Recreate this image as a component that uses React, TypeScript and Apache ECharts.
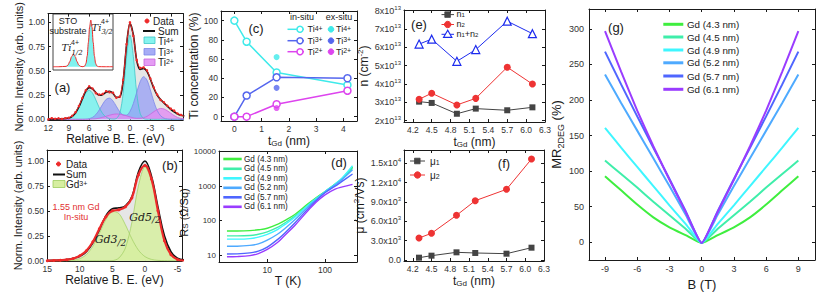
import React, { useEffect, useRef } from 'react';
import * as echarts from 'echarts';

// ===== (a) Ti 2p spectrum =====
const beA = [12, 11.5, 11, 10.5, 10, 9.5, 9, 8.5, 8, 7.5, 7, 6.5, 6, 5.5, 5, 4.5, 4, 3.5, 3, 2.5, 2, 1.5, 1, 0.5, 0, -0.5, -1, -1.5, -2, -2.5, -3, -3.5, -4, -4.5, -5, -5.5, -6, -6.5, -7, -7.5, -8];
const dataA = [0, 0.012, 0.006, 0.01, 0.004, 0.012, 0.016, 0.036, 0.074, 0.138, 0.22, 0.3, 0.34, 0.318, 0.27, 0.255, 0.262, 0.29, 0.278, 0.275, 0.222, 0.235, 0.405, 0.775, 1.0, 0.86, 0.61, 0.53, 0.535, 0.505, 0.42, 0.33, 0.255, 0.2, 0.175, 0.14, 0.11, 0.09, 0.06, 0.045, 0.03];
const sumA = [0.004, 0.004, 0.004, 0.005, 0.006, 0.008, 0.014, 0.031, 0.068, 0.13, 0.213, 0.29, 0.327, 0.313, 0.274, 0.248, 0.256, 0.28, 0.288, 0.268, 0.227, 0.227, 0.398, 0.766, 0.99, 0.87, 0.606, 0.515, 0.525, 0.495, 0.416, 0.323, 0.251, 0.204, 0.169, 0.136, 0.103, 0.077, 0.055, 0.041, 0.034];
const ti4A = [0, 0, 0, 0, 0.001, 0.002, 0.007, 0.023, 0.058, 0.118, 0.198, 0.27, 0.3, 0.27, 0.198, 0.118, 0.058, 0.023, 0.007, 0.002, 0.008, 0.061, 0.267, 0.647, 0.87, 0.647, 0.267, 0.061, 0.008, 0, 0, 0, 0, 0, 0, 0, 0, 0, 0, 0, 0];
const ti3A = [0, 0, 0, 0, 0, 0, 0, 0, 0, 0, 0, 0.002, 0.007, 0.02, 0.05, 0.098, 0.157, 0.206, 0.219, 0.19, 0.134, 0.078, 0.045, 0.043, 0.081, 0.163, 0.279, 0.388, 0.44, 0.405, 0.303, 0.185, 0.091, 0.037, 0.012, 0.003, 0, 0, 0, 0, 0];
const ti2A = [0, 0, 0, 0, 0, 0, 0, 0, 0, 0, 0, 0, 0, 0.003, 0.006, 0.012, 0.021, 0.031, 0.042, 0.051, 0.055, 0.053, 0.046, 0.036, 0.025, 0.015, 0.01, 0.011, 0.017, 0.03, 0.053, 0.078, 0.1, 0.112, 0.107, 0.088, 0.063, 0.039, 0.02, 0.009, 0.004];

// inset: STO substrate
const insetX = [0, 0.1, 0.22, 0.25, 0.28, 0.31, 0.34, 0.37, 0.4, 0.43, 0.46, 0.5, 0.53, 0.55, 0.57, 0.59, 0.61, 0.63, 0.65, 0.67, 0.69, 0.71, 0.73, 0.76, 0.85, 1];
const insetY = [0, 0, 0.008, 0.036, 0.111, 0.216, 0.27, 0.216, 0.111, 0.036, 0.008, 0, 0.017, 0.073, 0.23, 0.52, 0.85, 1.0, 0.85, 0.52, 0.23, 0.073, 0.017, 0.002, 0, 0];

// ===== (b) Gd 4d spectrum =====
const beB = [15, 14, 13, 12, 11, 10, 9, 8, 7, 6, 5, 4, 3, 2, 1, 0, -1, -2, -3, -4, -5, -6];
const dataB = [0, 0.002, 0.005, 0.01, 0.022, 0.05, 0.1, 0.19, 0.32, 0.44, 0.5, 0.51, 0.54, 0.63, 0.86, 0.955, 0.82, 0.5, 0.2, 0.06, 0.012, 0.002];
const sumB = [0.002, 0.004, 0.006, 0.012, 0.025, 0.045, 0.09, 0.18, 0.31, 0.45, 0.52, 0.53, 0.55, 0.64, 0.89, 1.0, 0.85, 0.54, 0.25, 0.09, 0.025, 0.008];
const gd32 = [0, 0, 0, 0.001, 0.006, 0.021, 0.061, 0.145, 0.274, 0.413, 0.495, 0.473, 0.36, 0.219, 0.106, 0.041, 0.013, 0.003, 0.001, 0, 0, 0];
const gd52 = [0, 0, 0, 0, 0, 0, 0, 0, 0, 0, 0.001, 0.027, 0.127, 0.386, 0.75, 0.94, 0.806, 0.507, 0.234, 0.08, 0.02, 0.004];

// ===== (c) Ti concentration =====
const tGdC = [0, 0.45, 1.55, 4.15];
const inSituTi4 = [100, 78, 46, 33];
const inSituTi3 = [0, 22, 41, 40];
const inSituTi2 = [0, 0, 13, 27];
const tGdEx = [1.55];
const exSituTi4 = [62];
const exSituTi3 = [30];
const exSituTi2 = [9];

// ===== (d) Rs vs T =====
const tempK = [2, 3, 5, 7, 10, 15, 20, 30, 50, 70, 100, 150, 200, 300];
const rs43 = [50, 50, 51, 54, 60, 78, 100, 150, 300, 460, 700, 1150, 1700, 3600];
const rs45 = [36, 36, 37, 40, 47, 63, 85, 135, 280, 440, 690, 1130, 1650, 3300];
const rs49 = [29, 29, 30, 33, 40, 55, 76, 125, 270, 430, 690, 1150, 1750, 3900];
const rs52 = [18, 18, 19, 21, 27, 40, 58, 105, 245, 405, 670, 1100, 1600, 3000];
const rs57 = [10.7, 10.8, 11.5, 13, 17, 28, 43, 85, 215, 375, 640, 1000, 1400, 2250];
const rs61 = [8.9, 9, 9.6, 11, 14.5, 23, 37, 72, 190, 340, 560, 820, 950, 1130];

// ===== (e) carrier densities =====
const tGd = [4.3, 4.5, 4.9, 5.2, 5.7, 6.1];
const n1 = [3.04e13, 2.97e13, 2.38e13, 2.66e13, 2.57e13, 2.73e13];
const n2 = [3.17e13, 3.5e13, 2.86e13, 3.22e13, 4.92e13, 4.0e13];
const nSum = [6.18e13, 6.45e13, 5.24e13, 5.88e13, 7.43e13, 6.75e13];

// ===== (f) mobilities =====
const mu1 = [360, 670, 1190, 1090, 980, 1910];
const mu2 = [3410, 4140, 6930, 9200, 10960, 15660];

// ===== (g) MR =====
const bField = [-9, -7.5, -6, -4.5, -3, -1.5, 0, 1.5, 3, 4.5, 6, 7.5, 9];
const mr43 = [93, 73, 53, 35, 21, 10, -1, 10, 21, 35, 53, 73, 93];
const mr45 = [115, 96, 77, 57, 38, 19, -1, 19, 38, 57, 77, 96, 115];
const mr49 = [161, 133, 106, 79, 52, 26, -1, 26, 52, 79, 106, 133, 161];
const mr52 = [236, 196, 157, 118, 79, 39, -1, 39, 79, 118, 157, 196, 236];
const mr57 = [268, 222, 177, 133, 89, 44, -1, 44, 89, 133, 177, 222, 268];
const mr61 = [297, 240, 185, 135, 88, 43, -1, 43, 88, 135, 185, 240, 297];

const gdNames = ['Gd (4.3 nm)', 'Gd (4.5 nm)', 'Gd (4.9 nm)', 'Gd (5.2 nm)', 'Gd (5.7 nm)', 'Gd (6.1 nm)'];
const gdColors = ['#3fee3f', '#3feeaa', '#3ff6ff', '#4eaaff', '#4f66ff', '#9a3cff'];

const FONT = "'Liberation Sans', Arial, Helvetica, sans-serif";
const SERIF = "'DejaVu Serif', 'Liberation Serif', serif";
const RED = '#ee2a2a';
const AXC = '#1a1a1a';

const pair = (xs: number[], ys: number[]) => xs.map((x, i) => [x, ys[i]]);
const isMult = (v: number, s: number) => Math.abs(v / s - Math.round(v / s)) < 1e-6;
const isPow10 = (v: number) => {
  const l = Math.log10(v);
  return Math.abs(l - Math.round(l)) < 1e-6;
};

function buildOption() {
  const grids = [
    { left: 48, top: 12, width: 135, height: 108 }, // a
    { left: 53, top: 14, width: 60, height: 56, show: true, borderColor: '#444', borderWidth: 1, backgroundColor: '#fff' }, // inset
    { left: 47, top: 150, width: 135, height: 111 }, // b
    { left: 221, top: 11, width: 136, height: 110 }, // c
    { left: 219, top: 151, width: 138, height: 111 }, // d
    { left: 404, top: 10, width: 141, height: 112 }, // e
    { left: 404, top: 150, width: 140, height: 111 }, // f
    { left: 589, top: 9, width: 226, height: 251 }, // g
  ];
  const xAxis: any[] = [];
  const yAxis: any[] = [];
  const series: any[] = [];
  const g: any[] = [];

  const common = (gi: number) => ({
    gridIndex: gi,
    axisLine: { show: true, onZero: false, lineStyle: { color: AXC, width: 1 } },
    axisTick: { show: true, inside: true, length: 3, lineStyle: { color: AXC, width: 1 } },
    splitLine: { show: false },
  });
  const mkAxis = (gi: number, ax: any, horiz: boolean) => {
    const main = {
      ...common(gi),
      ...ax,
      position: horiz ? 'bottom' : 'left',
      nameLocation: 'middle',
      axisLabel: { color: '#333', fontSize: 8.5, fontFamily: FONT, margin: 3, ...(ax.axisLabel || {}) },
      nameTextStyle: { color: AXC, fontSize: 12, fontFamily: FONT, ...(ax.nameTextStyle || {}) },
    };
    const mirror: any = {
      ...common(gi),
      type: ax.type,
      min: ax.min,
      max: ax.max,
      inverse: ax.inverse,
      position: horiz ? 'top' : 'right',
      axisLabel: { show: false },
    };
    if (ax.minInterval != null) { mirror.minInterval = ax.minInterval; mirror.maxInterval = ax.maxInterval; }
    if (ax.logBase != null) mirror.logBase = ax.logBase;
    return [main, mirror];
  };
  const addAxes = (gi: number, x: any, y: any) => {
    const xi = xAxis.length;
    xAxis.push(...mkAxis(gi, x, true));
    const yi = yAxis.length;
    yAxis.push(...mkAxis(gi, y, false));
    return { xAxisIndex: xi, yAxisIndex: yi };
  };
  const subRich = {
    sub: { fontSize: 8, verticalAlign: 'bottom', lineHeight: 8, color: AXC, fontFamily: FONT },
    sup: { fontSize: 8, verticalAlign: 'top', lineHeight: 8, color: AXC, fontFamily: FONT },
  };
  const fmtStep = (s: number, d: number) => (v: number) => (isMult(v, s) ? v.toFixed(d) : '');

  // ---------- (a)
  const A = addAxes(0,
    { type: 'value', min: -7.8, max: 12.05, inverse: true, minInterval: 3, maxInterval: 3,
      axisLabel: { formatter: fmtStep(3, 0) }, name: 'Relative B. E. (eV)', nameGap: 11 },
    { type: 'value', min: -0.007, max: 1.09, minInterval: 0.25, maxInterval: 0.25,
      axisLabel: { formatter: fmtStep(0.25, 2) }, name: 'Norm. Intensity (arb. units)', nameGap: 19, nameTextStyle: { fontSize: 11 } });
  const area = (name: string, ys: number[], xs: number[], ax: any, fill: string, stroke: string, lw = 0.8) => ({
    type: 'line', name, ...ax, data: pair(xs, ys), symbol: 'none', smooth: 0.3, z: 2,
    lineStyle: { color: stroke, width: lw }, areaStyle: { color: fill, opacity: 1 },
  });
  series.push(area('bgA', sumA, beA, A, '#e6e6e6', '#e6e6e6', 0));
  series.push(area('Ti4+ fit', ti4A, beA, A, 'rgba(120,242,238,0.85)', '#3cc8c8'));
  series.push(area('Ti3+ fit', ti3A, beA, A, 'rgba(150,158,246,0.75)', '#7c86ea'));
  series.push(area('Ti2+ fit', ti2A, beA, A, 'rgba(226,140,242,0.8)', '#c866dc'));
  series.push({ type: 'line', name: 'Sum A', ...A, data: pair(beA, sumA), symbol: 'none', smooth: 0.3, lineStyle: { color: '#111', width: 1.6 } });
  series.push({ type: 'line', name: 'Data A', ...A, data: pair(beA, dataA), symbol: 'circle', symbolSize: 2.5, smooth: 0.2,
    itemStyle: { color: RED }, lineStyle: { color: RED, width: 1 } });

  // inset
  const ixi = xAxis.length;
  xAxis.push({ type: 'value', gridIndex: 1, min: 0, max: 1, show: false });
  const iyi = yAxis.length;
  yAxis.push({ type: 'value', gridIndex: 1, min: -0.07, max: 1.13, show: false });
  series.push({ type: 'line', name: 'STO', xAxisIndex: ixi, yAxisIndex: iyi, data: pair(insetX, insetY), symbol: 'none', smooth: 0.3,
    smoothMonotone: 'x', lineStyle: { color: RED, width: 1 }, areaStyle: { color: '#7ff2ee', opacity: 1 } });

  // ---------- (b)
  const B = addAxes(2,
    { type: 'value', min: -5.7, max: 15.05, inverse: true, minInterval: 5, maxInterval: 5,
      axisLabel: { formatter: fmtStep(5, 0) }, name: 'Relative B. E. (eV)', nameGap: 11 },
    { type: 'value', min: -0.003, max: 1.11, minInterval: 0.25, maxInterval: 0.25,
      axisLabel: { formatter: fmtStep(0.25, 2) }, name: 'Norm. Intensity (arb. units)', nameGap: 19, nameTextStyle: { fontSize: 11 } });
  series.push(area('bgB', sumB, beB, B, '#e6e6e6', '#e6e6e6', 0));
  series.push(area('Gd3/2 fit', gd32, beB, B, 'rgba(214,238,160,0.85)', '#a6d26a'));
  series.push(area('Gd5/2 fit', gd52, beB, B, 'rgba(214,238,160,0.85)', '#a6d26a'));
  series.push({ type: 'line', name: 'Sum B', ...B, data: pair(beB, sumB), symbol: 'none', smooth: 0.4, lineStyle: { color: '#111', width: 1.6 } });
  series.push({ type: 'line', name: 'Data B', ...B, data: pair(beB, dataB), symbol: 'circle', symbolSize: 3, smooth: 0.4,
    itemStyle: { color: RED }, lineStyle: { color: RED, width: 2.2 } });

  // ---------- (c)
  const C = addAxes(3,
    { type: 'value', min: -0.49, max: 4.5, minInterval: 1, maxInterval: 1, axisLabel: { formatter: fmtStep(1, 0) },
      name: 't{sub|Gd} (nm)', nameGap: 12, nameTextStyle: { rich: subRich, lineHeight: 14 } },
    { type: 'value', min: -4.5, max: 110, minInterval: 20, maxInterval: 20, axisLabel: { formatter: fmtStep(20, 0) },
      name: 'Ti concentration (%)', nameGap: 17 });
  const cCols = ['#3feaea', '#5566ee', '#dd44ee'];
  const inS = [inSituTi4, inSituTi3, inSituTi2];
  const exS = [exSituTi4, exSituTi3, exSituTi2];
  inS.forEach((ys, i) => series.push({ type: 'line', name: 'in ' + i, ...C, data: pair(tGdC, ys), symbol: 'circle', symbolSize: 7,
    itemStyle: { color: '#fff', borderColor: cCols[i], borderWidth: 1.5 }, lineStyle: { color: cCols[i], width: 1.5 }, z: 3 }));
  exS.forEach((ys, i) => series.push({ type: 'scatter', name: 'ex ' + i, ...C, data: pair(tGdEx, ys), symbolSize: 6,
    itemStyle: { color: cCols[i] }, z: 4 }));

  // ---------- (d)
  const D = addAxes(4,
    { type: 'log', logBase: 10, min: 1.456, max: 358.6, axisLabel: { formatter: (v: number) => (isPow10(v) ? String(Math.round(v)) : '') },
      name: 'T (K)', nameGap: 10 },
    { type: 'log', logBase: 10, min: 6.27, max: 10480,
      axisLabel: { fontSize: 8, formatter: (v: number) => (isPow10(v) ? String(Math.round(v)) : '') },
      name: 'R{sub|S} (Ω/Sq)', nameGap: 13, nameTextStyle: { fontSize: 11, rich: subRich, lineHeight: 12, padding: [0, 12, 0, 0] } });
  [rs43, rs45, rs49, rs52, rs57, rs61].forEach((ys, i) => series.push({ type: 'line', name: gdNames[i], ...D, data: pair(tempK, ys),
    symbol: 'none', smooth: 0.35, lineStyle: { color: gdColors[i], width: 1.4 }, itemStyle: { color: gdColors[i] } }));

  // ---------- (e)
  const supLbl = { sup: { fontSize: 6, verticalAlign: 'top', lineHeight: 6, color: '#333', fontFamily: FONT } };
  const E = addAxes(5,
    { type: 'value', min: 4.06, max: 6.3, minInterval: 0.3, maxInterval: 0.3, axisLabel: { formatter: fmtStep(0.3, 1) },
      name: 't{sub|Gd} (nm)', nameGap: 10, nameTextStyle: { rich: subRich, lineHeight: 14 } },
    { type: 'value', min: 1.93e13, max: 8.04e13, minInterval: 1e13, maxInterval: 1e13,
      axisLabel: { formatter: (v: number) => (isMult(v, 1e13) ? `${Math.round(v / 1e13)}x10{sup|13}` : ''), lineHeight: 12, fontSize: 9, rich: supLbl },
      name: 'n (cm{sup|-2})', nameGap: 29, nameTextStyle: { rich: subRich, lineHeight: 14 } });
  series.push({ type: 'line', name: 'n1', ...E, data: pair(tGd, n1), symbol: 'rect', symbolSize: 6,
    itemStyle: { color: '#444' }, lineStyle: { color: '#444', width: 1 } });
  series.push({ type: 'line', name: 'n2', ...E, data: pair(tGd, n2), symbol: 'circle', symbolSize: 7,
    itemStyle: { color: '#ee3333' }, lineStyle: { color: '#ee3333', width: 1 } });
  series.push({ type: 'line', name: 'n1+n2', ...E, data: pair(tGd, nSum), symbol: 'triangle', symbolSize: 8,
    itemStyle: { color: '#fff', borderColor: '#1c2bee', borderWidth: 1.2 }, lineStyle: { color: '#1c2bee', width: 1 } });

  // ---------- (f)
  const F = addAxes(6,
    { type: 'value', min: 4.06, max: 6.3, minInterval: 0.3, maxInterval: 0.3, axisLabel: { formatter: fmtStep(0.3, 1) },
      name: 't{sub|Gd} (nm)', nameGap: 10, nameTextStyle: { rich: subRich, lineHeight: 14 } },
    { type: 'value', min: -155, max: 17060, minInterval: 3000, maxInterval: 3000,
      axisLabel: {
        formatter: (v: number) => {
          if (!isMult(v, 3000)) return '';
          if (Math.abs(v) < 1) return '0.0';
          if (v < 9999) return `${(v / 1000).toFixed(1)}x10{sup|3}`;
          return `${(v / 10000).toFixed(1)}x10{sup|4}`;
        },
        lineHeight: 12, fontSize: 9, rich: supLbl,
      },
      name: 'μ (cm{sup|2}/Vs)', nameGap: 29, nameTextStyle: { rich: subRich, lineHeight: 14 } });
  series.push({ type: 'line', name: 'mu1', ...F, data: pair(tGd, mu1), symbol: 'rect', symbolSize: 6,
    itemStyle: { color: '#444' }, lineStyle: { color: '#444', width: 1 } });
  series.push({ type: 'line', name: 'mu2', ...F, data: pair(tGd, mu2), symbol: 'circle', symbolSize: 7,
    itemStyle: { color: '#ee3333' }, lineStyle: { color: '#ee3333', width: 1 } });

  // ---------- (g)
  const Gx = addAxes(7,
    { type: 'value', min: -10.49, max: 10.55, minInterval: 3, maxInterval: 3, axisLabel: { formatter: fmtStep(3, 0), fontSize: 9, margin: 4 },
      name: 'B (T)', nameGap: 16, nameTextStyle: { fontSize: 13 } },
    { type: 'value', min: -24.9, max: 328, minInterval: 50, maxInterval: 50, axisLabel: { formatter: fmtStep(50, 0), fontSize: 9, margin: 5 },
      name: 'MR{sub|2DEG} (%)', nameGap: 22, nameTextStyle: { fontSize: 13, rich: { ...subRich, sub: { ...subRich.sub, fontSize: 9 } }, lineHeight: 17 } });
  [mr43, mr45, mr49, mr52, mr57, mr61].forEach((ys, i) => series.push({ type: 'line', name: gdNames[i], ...Gx, data: pair(bField, ys),
    symbol: 'none', smooth: 0.15, lineStyle: { color: gdColors[i], width: 2 }, itemStyle: { color: gdColors[i] } }));

  // ---------- graphic annotations
  const txt = (x: number, y: number, text: string, st: any = {}) => ({
    type: 'text', x, y, z: 100,
    style: { text, fill: AXC, fontSize: 10, fontFamily: FONT, align: 'left', verticalAlign: 'middle', textAlign: 'left', textVerticalAlign: 'middle', ...st },
  });
  const ctxt = (x: number, y: number, text: string, st: any = {}) => txt(x, y, text, { align: 'center', textAlign: 'center', ...st });
  const gRich = {
    sup: { fontSize: 7, verticalAlign: 'top', lineHeight: 5, fill: AXC, fontFamily: FONT },
    sub: { fontSize: 7, verticalAlign: 'bottom', lineHeight: 5, fill: AXC, fontFamily: FONT },
  };
  const eRich = {
    sub: { fontSize: 6, verticalAlign: 'bottom', lineHeight: 4, fill: AXC, fontFamily: FONT },
  };
  const line = (x1: number, y1: number, x2: number, y2: number, stroke: string, lw: number) =>
    ({ type: 'line', z: 100, shape: { x1, y1, x2, y2 }, style: { stroke, lineWidth: lw } });
  const circ = (cx: number, cy: number, r: number, fill: string, stroke?: string, lw = 1) =>
    ({ type: 'circle', z: 101, shape: { cx, cy, r }, style: { fill, stroke: stroke || fill, lineWidth: lw } });
  const rect = (x: number, y: number, w: number, h: number, fill: string, stroke: string) =>
    ({ type: 'rect', z: 100, shape: { x, y, width: w, height: h }, style: { fill, stroke, lineWidth: 0.8 } });

  // panel labels
  [['(a)', 62.5, 87], ['(b)', 170, 165], ['(c)', 256, 28.5], ['(d)', 339, 162], ['(e)', 419, 24.5], ['(f)', 504, 163.5], ['(g)', 616, 27]]
    .forEach(([t, x, y]) => g.push(ctxt(x as number, y as number, t as string, { fontSize: 13 })));

  // (a) legend
  g.push(circ(147, 21, 2, RED), txt(153, 21, 'Data'));
  g.push(line(143, 31, 155, 31, '#111', 2), txt(158, 31, 'Sum'));
  g.push(rect(144, 37, 11, 6.5, '#86f3ef', '#3cc8c8'), txt(158, 41, 'Ti{sup|4+}', { rich: gRich, lineHeight: 9 }));
  g.push(rect(144, 48.5, 11, 6.5, '#a6acf6', '#7c86ea'), txt(158, 52, 'Ti{sup|3+}', { rich: gRich, lineHeight: 9 }));
  g.push(rect(144, 59, 11, 6.5, '#e59cf4', '#c866dc'), txt(158, 62.5, 'Ti{sup|2+}', { rich: gRich, lineHeight: 9 }));
  // inset labels
  g.push(ctxt(68, 21, 'STO', { fontSize: 9 }), ctxt(68, 31, 'substrate', { fontSize: 9 }));
  g.push(ctxt(66.5, 47.5, 'Ti', { fontSize: 10, fontFamily: SERIF, fontStyle: 'italic' }),
    ctxt(75, 42.5, '4+', { fontSize: 7 }), ctxt(77, 53, '1/2', { fontSize: 7, fontFamily: SERIF, fontStyle: 'italic' }));
  g.push(ctxt(96.5, 27, 'Ti', { fontSize: 10, fontFamily: SERIF, fontStyle: 'italic' }),
    ctxt(105, 21, '4+', { fontSize: 7 }), ctxt(107, 32, '3/2', { fontSize: 7, fontFamily: SERIF, fontStyle: 'italic' }));

  // (b) legend and labels
  g.push(circ(58.5, 164, 2, RED), txt(66, 164, 'Data'));
  g.push(line(53, 174.5, 65, 174.5, '#111', 2), txt(66, 174.5, 'Sum'));
  g.push(rect(53, 180.5, 12, 7, '#d6eea0', '#9ccc5c'), txt(66, 184.5, 'Gd{sup|3+}', { rich: gRich, lineHeight: 9 }));
  g.push(ctxt(76, 206.5, '1.55 nm Gd', { fontSize: 9, fill: '#e23030' }), ctxt(76, 216.5, 'In-situ', { fontSize: 9, fill: '#e23030' }));
  const gdRich = { s: { fontSize: 9, verticalAlign: 'bottom', lineHeight: 9, fill: '#222', fontFamily: SERIF, fontStyle: 'italic' } };
  g.push(ctxt(110.5, 239.5, 'Gd3{s|/2}', { fontSize: 11, fontFamily: SERIF, fontStyle: 'italic', rich: gdRich, lineHeight: 15 }));
  g.push(ctxt(145, 217, 'Gd5{s|/2}', { fontSize: 11, fontFamily: SERIF, fontStyle: 'italic', rich: gdRich, lineHeight: 15 }));

  // (c) legend
  g.push(ctxt(302, 16.5, 'in-situ', { fontSize: 9 }), ctxt(339, 16.5, 'ex-situ', { fontSize: 9 }));
  const cy = [29.3, 40.7, 51.7];
  const cLab = ['Ti{sup|4+}', 'Ti{sup|3+}', 'Ti{sup|2+}'];
  cy.forEach((y, i) => {
    g.push(line(287.5, y, 304, y, cCols[i], 1.5), circ(300, y, 3, '#fff', cCols[i], 1.5), txt(307.5, y, cLab[i], { fontSize: 9, rich: gRich, lineHeight: 9 }));
    g.push(circ(331, y, 2.8, cCols[i]), txt(336, y, cLab[i], { fontSize: 9, rich: gRich, lineHeight: 9 }));
  });

  // (d) legend
  const dRows = [159, 168.8, 178.3, 187.8, 197.3, 206.8];
  dRows.forEach((y, i) => g.push(line(223.3, y, 241.7, y, gdColors[i], 2.6), txt(244, y, gdNames[i], { fontSize: 8.2 })));

  // (e) legend
  g.push(line(441.5, 14.6, 454, 14.6, '#444', 1), rect(444.8, 11.8, 5.6, 5.6, '#444', '#444'), txt(456.5, 14.3, 'n{sub|1}', { fontSize: 9, rich: eRich, lineHeight: 7 }));
  g.push(line(441.5, 24.5, 454, 24.5, '#ee3333', 1), circ(447.7, 24.5, 3.2, '#ee3333'), txt(456.5, 24.2, 'n{sub|2}', { fontSize: 9, rich: eRich, lineHeight: 7 }));
  g.push(line(441.5, 34.3, 454, 34.3, '#1c2bee', 1),
    { type: 'polygon', z: 101, shape: { points: [[447.7, 30.3], [443.6, 37.3], [451.8, 37.3]] }, style: { fill: '#fff', stroke: '#1c2bee', lineWidth: 1.2 } },
    txt(456.5, 34, 'n{sub|1}+n{sub|2}', { fontSize: 9, rich: eRich, lineHeight: 7 }));
  // (f) legend
  g.push(line(410, 161, 425, 161, '#444', 1), rect(414.5, 158.2, 5.6, 5.6, '#444', '#444'), txt(430, 161, 'μ{sub|1}', { rich: gRich, lineHeight: 9 }));
  g.push(line(410, 175, 425, 175, '#ee3333', 1), circ(417.5, 175, 3.2, '#ee3333'), txt(430, 175, 'μ{sub|2}', { rich: gRich, lineHeight: 9 }));

  // (g) legend
  const gRows = [24.3, 37, 50, 62.8, 76, 89.3];
  gRows.forEach((y, i) => g.push(line(663.3, y, 683.3, y, gdColors[i], 3), txt(687, y, gdNames[i], { fontSize: 9.8 })));

  return {
    animation: false,
    backgroundColor: '#fff',
    textStyle: { fontFamily: FONT },
    grid: grids,
    xAxis,
    yAxis,
    series,
    graphic: { elements: g },
  };
}

export default function App() {
  const ref = useRef<HTMLDivElement>(null);
  useEffect(() => {
    if (!ref.current) return;
    const chart = echarts.init(ref.current, undefined, { renderer: 'svg' });
    chart.setOption(buildOption() as any);
    return () => chart.dispose();
  }, []);
  return <div ref={ref} style={{ position: 'absolute', left: 0, top: 0, width: 830, height: 299, background: '#fff' }} />;
}
